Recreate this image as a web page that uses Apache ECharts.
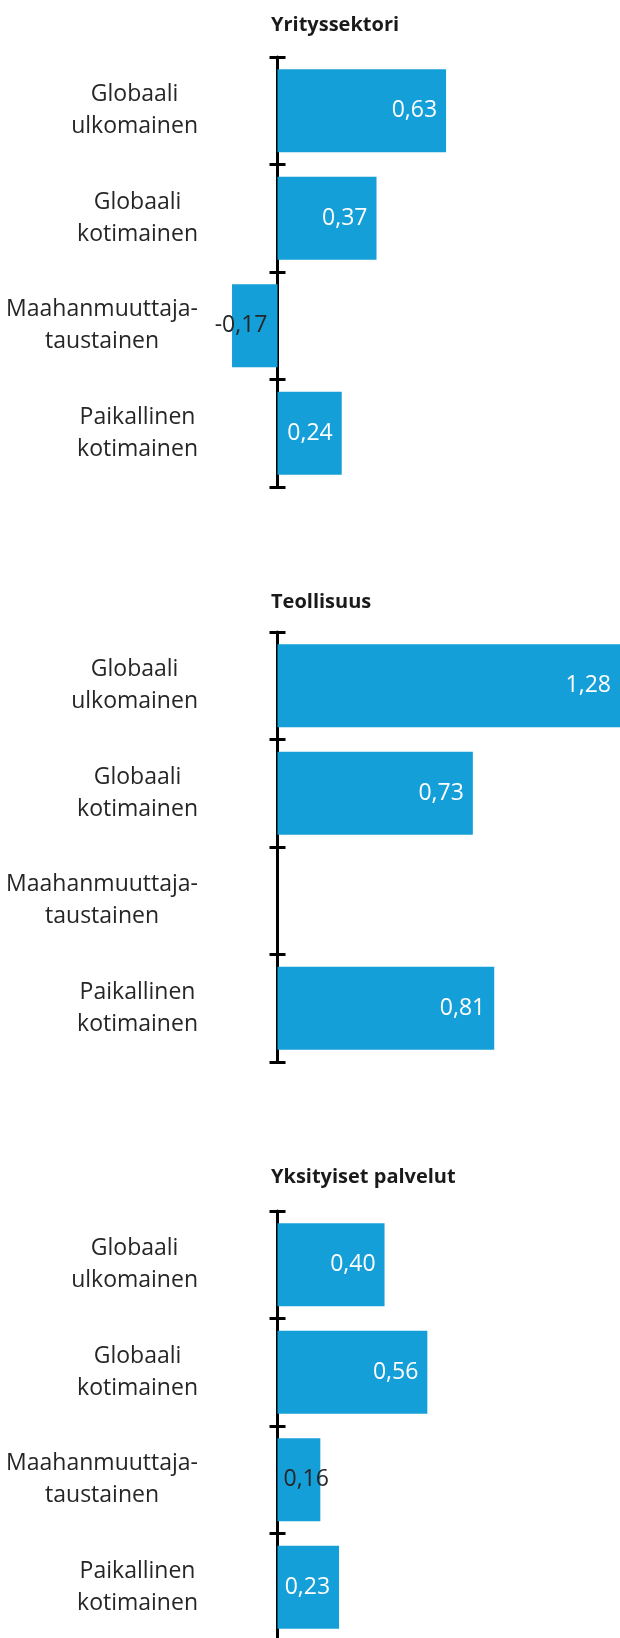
<!DOCTYPE html>
<html>
<head>
<meta charset="utf-8">
<script src="https://cdn.jsdelivr.net/npm/echarts@6/dist/echarts.min.js"></script>
<style>
  html, body { margin: 0; padding: 0; background: #fff; }
  #chart { width: 620px; height: 1638px; }
</style>
</head>
<body>
<div id="chart"></div>
<script>
const categories = [
  'Globaali\nulkomainen',
  'Globaali\nkotimainen',
  'Maahanmuuttaja-\ntaustainen',
  'Paikallinen\nkotimainen'
]
const panelTitles = ['Yrityssektori', 'Teollisuus', 'Yksityiset palvelut']
const yrityssektori = [0.63, 0.37, -0.17, 0.24]
const teollisuus = [1.28, 0.73, null, 0.81]
const yksityisetPalvelut = [0.40, 0.56, 0.16, 0.23]

const panels = [yrityssektori, teollisuus, yksityisetPalvelut]
const gridTops = [57, 632, 1211]
const gridHeight = 430
const titleTops = [13, 590, 1165]

const FONT = 'Open Sans'
const BLUE = '#149fd8'
const DARK = '#262626'

const fmt = (v) => v.toFixed(2).replace('.', ',')

// small bars don't fit their label -> dark text outside the fill
const labelFor = (v) => {
  if (v == null) return {}
  if (v < 0) return { position: 'insideRight', color: DARK, distance: 10 }
  if (v < 0.2) return { position: 'insideLeft', color: DARK, distance: 6 }
  return { position: 'insideRight', color: '#fff', distance: 9 }
}

const chart = echarts.init(document.getElementById('chart'))

const grid = []
const xAxis = []
const yAxis = []
const series = []
const title = []

panels.forEach((values, i) => {
  grid.push({ left: 224, right: 0, top: gridTops[i], height: gridHeight, outerBoundsMode: 'none' })
  title.push({
    text: panelTitles[i],
    left: 271,
    top: titleTops[i],
    padding: 0,
    textStyle: { fontFamily: FONT, fontSize: 20, fontWeight: 'bold', color: '#1a1a1a', lineHeight: 24 }
  })
  // main value axis + a hidden twin, so the right half of the ticks can sit on zero too
  for (let k = 0; k < 2; k++) {
    xAxis.push({
      type: 'value',
      gridIndex: i,
      min: -0.2,
      max: 1.28,
      show: false
    })
  }
  yAxis.push({
    type: 'category',
    gridIndex: i,
    data: categories,
    inverse: true,
    position: 'left',
    axisLine: { onZero: true, onZeroAxisIndex: i * 2, lineStyle: { color: '#000', width: 3 } },
    axisTick: { show: true, length: 8, lineStyle: { color: '#000', width: 3 } },
    axisLabel: {
      margin: 26,
      align: 'right',
      formatter: (v) => v.split('\n').map(l => '{c|' + l + '}').join('\n'),
      rich: {
        c: { align: 'center', fontFamily: FONT, fontSize: 23, lineHeight: 32, color: DARK }
      }
    },
    splitLine: { show: false }
  })
  yAxis.push({
    type: 'category',
    gridIndex: i,
    data: categories,
    inverse: true,
    position: 'right',
    axisLine: { show: false, onZero: true, onZeroAxisIndex: i * 2 + 1 },
    axisTick: { show: true, length: 8, lineStyle: { color: '#000', width: 3 } },
    axisLabel: { show: false },
    splitLine: { show: false }
  })
  series.push({
    type: 'bar',
    xAxisIndex: i * 2,
    yAxisIndex: i * 2,
    barCategoryGap: '23%',
    itemStyle: { color: BLUE },
    label: {
      show: true,
      fontFamily: FONT,
      fontSize: 23,
      formatter: (p) => fmt(p.value)
    },
    data: values.map(v => ({ value: v, label: labelFor(v) })),
    z: 1
  })
})

chart.setOption({
  animation: false,
  backgroundColor: '#fff',
  title,
  grid,
  xAxis,
  yAxis,
  series
})
</script>
</body>
</html>
